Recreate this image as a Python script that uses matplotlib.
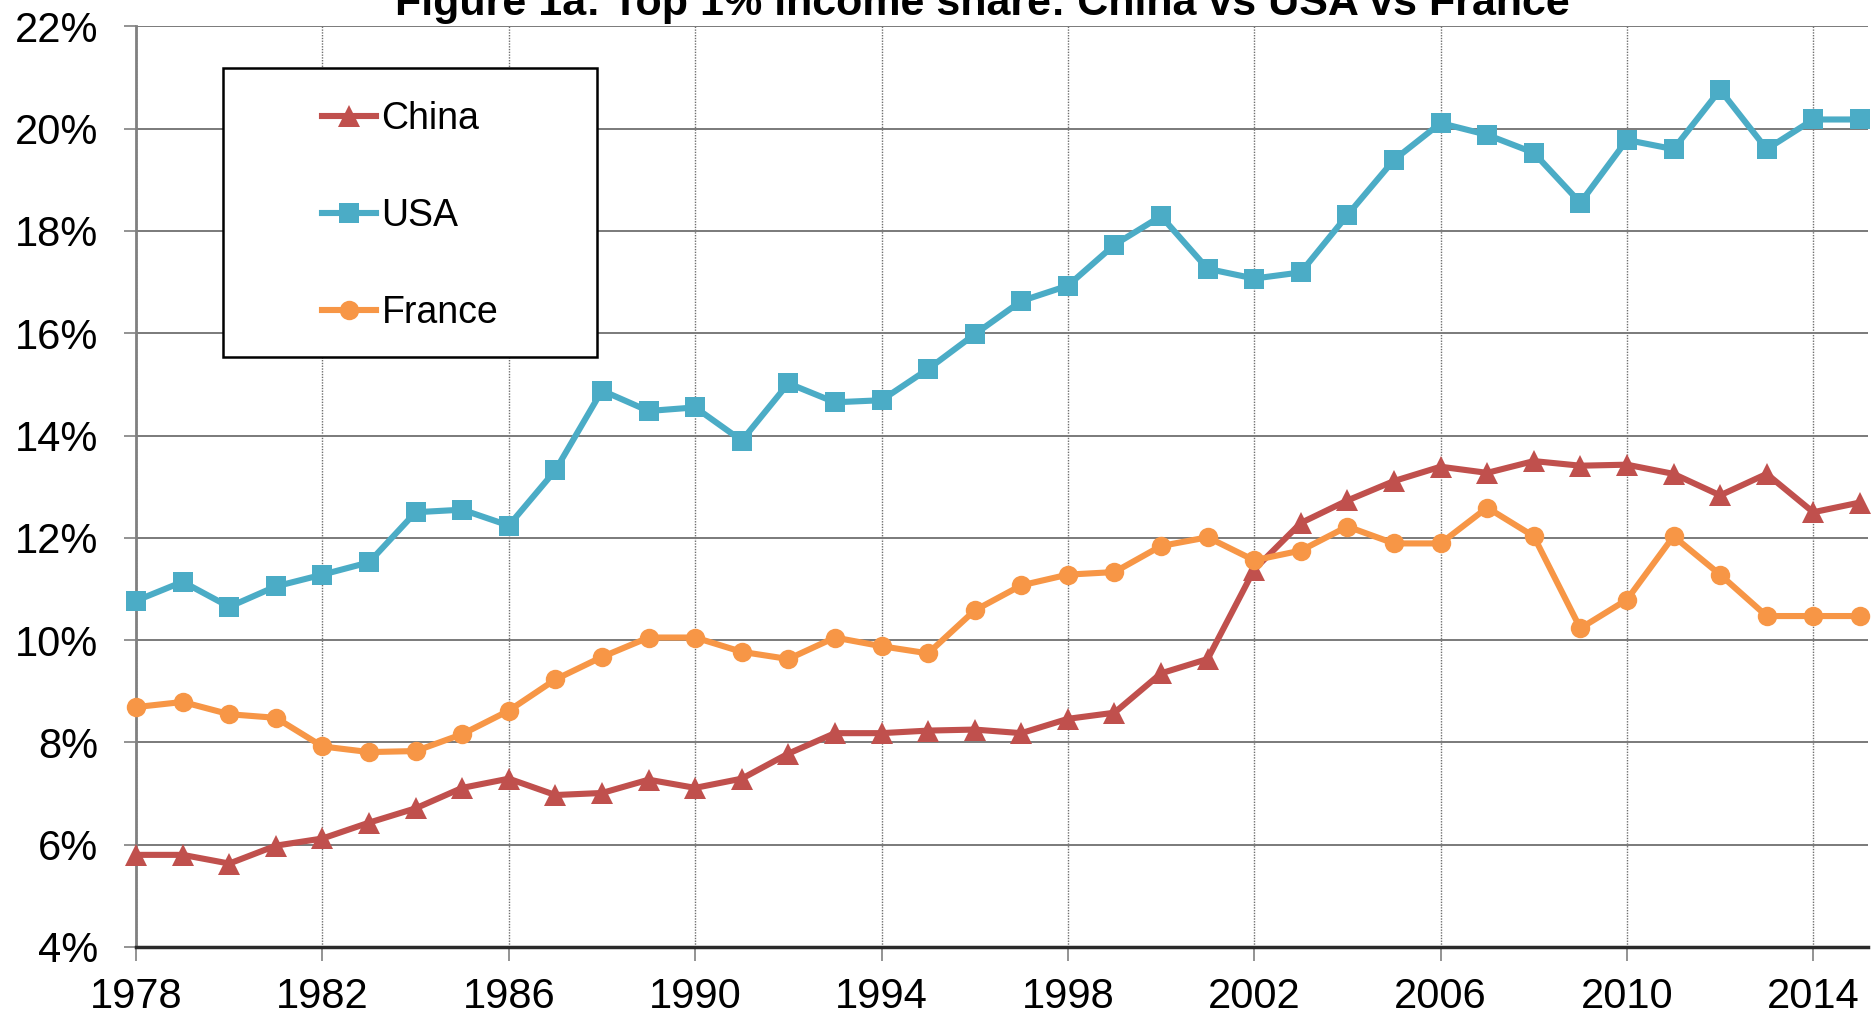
import matplotlib.pyplot as plt
from matplotlib.patches import Rectangle

plt.rcParams['font.family'] = ['Liberation Sans', 'DejaVu Sans']

years = list(range(1978, 2016))

# top 1% income share, percent of national income
china = [5.80, 5.80, 5.63, 5.98, 6.12, 6.43, 6.71, 7.11, 7.29, 6.97,
         7.01, 7.27, 7.11, 7.29, 7.78, 8.18, 8.18, 8.23, 8.25, 8.18,
         8.46, 8.58, 9.35, 9.63, 11.38, 12.29, 12.73, 13.11, 13.39, 13.27,
         13.50, 13.41, 13.43, 13.25, 12.83, 13.25, 12.50, 12.69]
usa = [10.77, 11.14, 10.65, 11.05, 11.28, 11.52, 12.50, 12.55, 12.24, 13.32,
       14.88, 14.48, 14.55, 13.90, 15.02, 14.65, 14.69, 15.30, 15.98, 16.63,
       16.93, 17.73, 18.29, 17.26, 17.07, 17.19, 18.31, 19.39, 20.11, 19.88,
       19.53, 18.55, 19.78, 19.60, 20.76, 19.60, 20.18, 20.18]
france = [8.69, 8.79, 8.55, 8.48, 7.92, 7.81, 7.83, 8.16, 8.62, 9.23,
          9.67, 10.05, 10.05, 9.77, 9.63, 10.05, 9.88, 9.74, 10.58, 11.07,
          11.28, 11.33, 11.84, 12.01, 11.56, 11.75, 12.22, 11.89, 11.89, 12.59,
          12.03, 10.23, 10.79, 12.03, 11.28, 10.47, 10.47, 10.47]

x_ticks = list(range(1978, 2015, 4))
y_ticks = list(range(4, 23, 2))

fig = plt.figure(figsize=(18.72, 10.16), dpi=100)
ax = fig.add_axes([0.0727, 0.068, 0.9253, 0.906])

series = [
    ('China', china, '#C0504D', '^', 16),
    ('USA', usa, '#4BACC6', 's', 14.5),
    ('France', france, '#F79646', 'o', 14),
]
handles = []
for name, vals, col, mk, ms in series:
    ln, = ax.plot(years, vals, color=col, lw=4.4, marker=mk, markersize=ms,
                  markeredgewidth=0, label=name, zorder=3, clip_on=False)
    handles.append(ln)

ax.set_xlim(1978, 2015.18)
ax.set_ylim(4, 22)
ax.set_xticks(x_ticks)
ax.set_xticklabels([str(y) for y in x_ticks])
ax.set_yticks(y_ticks)
ax.set_yticklabels([f'{v}%' for v in y_ticks])

ax.tick_params(axis='both', labelsize=30, colors='#808080', labelcolor='black',
               direction='out', width=1.2)
ax.tick_params(axis='x', length=10, pad=12)
ax.tick_params(axis='y', length=9, pad=18)

ax.grid(axis='y', color='#7a7a7a', lw=1.4, ls='-', zorder=0)
ax.grid(axis='x', color='#6f6f6f', lw=1.0, ls=(0, (1, 1)), zorder=0)

for side in ['top', 'right']:
    ax.spines[side].set_visible(False)
ax.spines['left'].set_color('#808080')
ax.spines['left'].set_linewidth(2)
ax.spines['bottom'].set_color('#2a2a2a')
ax.spines['bottom'].set_linewidth(2.5)

# legend box
fig.patches.append(Rectangle((0.1191, 0.6486), 0.1998, 0.2844, transform=fig.transFigure,
                             facecolor='white', edgecolor='black', lw=1.8, zorder=5))
leg = fig.legend(handles=handles, loc='center', bbox_to_anchor=(0.1191 + 0.1998 / 2, 0.6486 + 0.2844 / 2 - 0.0035),
                 frameon=False, fontsize=27, handlelength=1.44, handletextpad=0.16,
                 labelspacing=1.62, borderpad=0)
leg.set_zorder(6)

fig.text(0.5246, 0.985, 'Figure 1a: Top 1% income share: China vs USA vs France',
         fontweight='bold', fontsize=31, ha='center', va='baseline')

plt.savefig('out.png', dpi=100)
